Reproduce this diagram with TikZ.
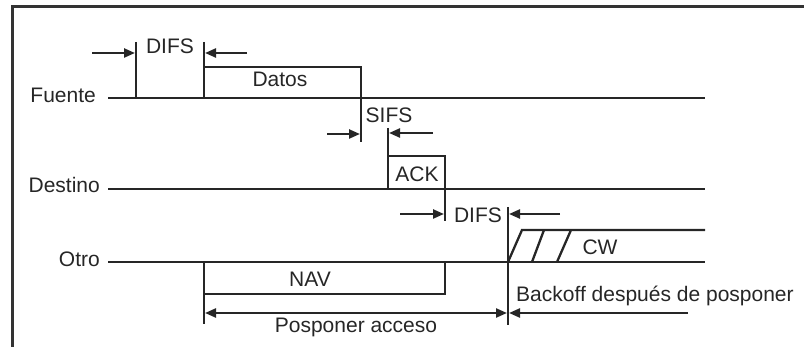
\documentclass[tikz,border=0pt]{standalone}
\usepackage{fontspec}
\setmainfont{Liberation Sans}
\usetikzlibrary{arrows.meta}
\begin{document}
\begin{tikzpicture}[x=1pt,y=-1pt,
  lbl/.style={inner sep=0pt,font=\fontsize{21}{24}\selectfont,text=black!85},
  tl/.style={line width=2.3pt,draw=black!85},
  dimarrow/.style={tl,-{Triangle[length=11pt,width=9pt]}},
  dblarrow/.style={tl,{Triangle[length=11pt,width=9pt]}-{Triangle[length=11pt,width=9pt]}},
  frameline/.style={line width=3pt,draw=black!80}]
\useasboundingbox (0,0) rectangle (804,347);
% frame
\coordinate (fr1) at (12,347);
\coordinate (fr2) at (12,7);
\coordinate (fr3) at (804,7);
\draw[frameline] (fr1) -- (fr2) -- (fr3);
% labels of stations
\node[lbl,anchor=base east] (fuente) at (96,103) {Fuente};
\node[lbl,anchor=base east] (destino) at (100,193) {Destino};
\node[lbl,anchor=base east] (otro) at (100,267) {Otro};
% time lines
\coordinate (f0) at (108,98);  \coordinate (f1) at (705,98);
\coordinate (d0) at (108,189); \coordinate (d1) at (705,189);
\coordinate (o0) at (108,262); \coordinate (o1) at (705,262);
\draw[tl] (f0) -- (f1);
\draw[tl] (d0) -- (d1);
\draw[tl] (o0) -- (o1);
% DIFS (top)
\coordinate (t1a) at (136,42); \coordinate (t1b) at (136,98);
\coordinate (t2a) at (204,42); \coordinate (t2b) at (204,98);
\draw[tl] (t1a) -- (t1b);
\draw[tl] (t2a) -- (t2b);
\coordinate (a1s) at (92,53);  \coordinate (a1e) at (135,53);
\coordinate (a2s) at (247,53); \coordinate (a2e) at (205,53);
\draw[dimarrow] (a1s) -- (a1e);
\draw[dimarrow] (a2s) -- (a2e);
\node[lbl,anchor=base] (difs1) at (170,54) {DIFS};
% Datos
\coordinate (da0) at (204,67); \coordinate (da1) at (361,67); \coordinate (da2) at (361,142);
\draw[tl] (da0) -- (da1) -- (da2);
\node[lbl,anchor=base] (datos) at (280,87) {Datos};
% SIFS
\coordinate (s1s) at (327,134); \coordinate (s1e) at (360,134);
\draw[dimarrow] (s1s) -- (s1e);
\coordinate (s2a) at (388,128); \coordinate (s2b) at (388,189);
\draw[tl] (s2a) -- (s2b);
\coordinate (s2s) at (433,133); \coordinate (s2e) at (389,133);
\draw[dimarrow] (s2s) -- (s2e);
\node[lbl,anchor=base] (sifs) at (389,123) {SIFS};
% ACK
\coordinate (k0) at (388,156); \coordinate (k1) at (445,156); \coordinate (k2) at (445,221);
\draw[tl] (k0) -- (k1) -- (k2);
\node[lbl,anchor=base] (ack) at (417,182) {ACK};
% DIFS (lower)
\coordinate (l1s) at (400,214); \coordinate (l1e) at (444,214);
\draw[dimarrow] (l1s) -- (l1e);
\coordinate (va) at (508,207); \coordinate (vb) at (508,325);
\draw[tl] (va) -- (vb);
\coordinate (l2s) at (560,214); \coordinate (l2e) at (509,214);
\draw[dimarrow] (l2s) -- (l2e);
\node[lbl,anchor=base] (difs2) at (478,223) {DIFS};
% CW
\coordinate (c0) at (508,262); \coordinate (c1) at (522,230); \coordinate (c2) at (705,230);
\draw[tl] (c0) -- (c1) -- (c2);
\coordinate (h1a) at (532,262); \coordinate (h1b) at (544,230);
\coordinate (h2a) at (557,262); \coordinate (h2b) at (571,230);
\draw[tl] (h1a) -- (h1b);
\draw[tl] (h2a) -- (h2b);
\node[lbl,anchor=base] (cw) at (600,255) {CW};
% NAV
\coordinate (n0) at (204,262); \coordinate (n1) at (204,324);
\draw[tl] (n0) -- (n1);
\coordinate (n2) at (204,294); \coordinate (n3) at (445,294); \coordinate (n4) at (445,262);
\draw[tl] (n2) -- (n3) -- (n4);
\node[lbl,anchor=base] (nav) at (310,287) {NAV};
% Posponer acceso
\coordinate (p0) at (205,313); \coordinate (p1) at (507,313);
\draw[dblarrow] (p0) -- (p1);
\node[lbl,anchor=base] (posp) at (356,333) {Posponer acceso};
% Backoff
\coordinate (b0) at (688,313); \coordinate (b1) at (509,313);
\draw[dimarrow] (b0) -- (b1);
\node[lbl,anchor=base west] (backoff) at (516,302) {Backoff después de posponer};
\end{tikzpicture}
\end{document}
